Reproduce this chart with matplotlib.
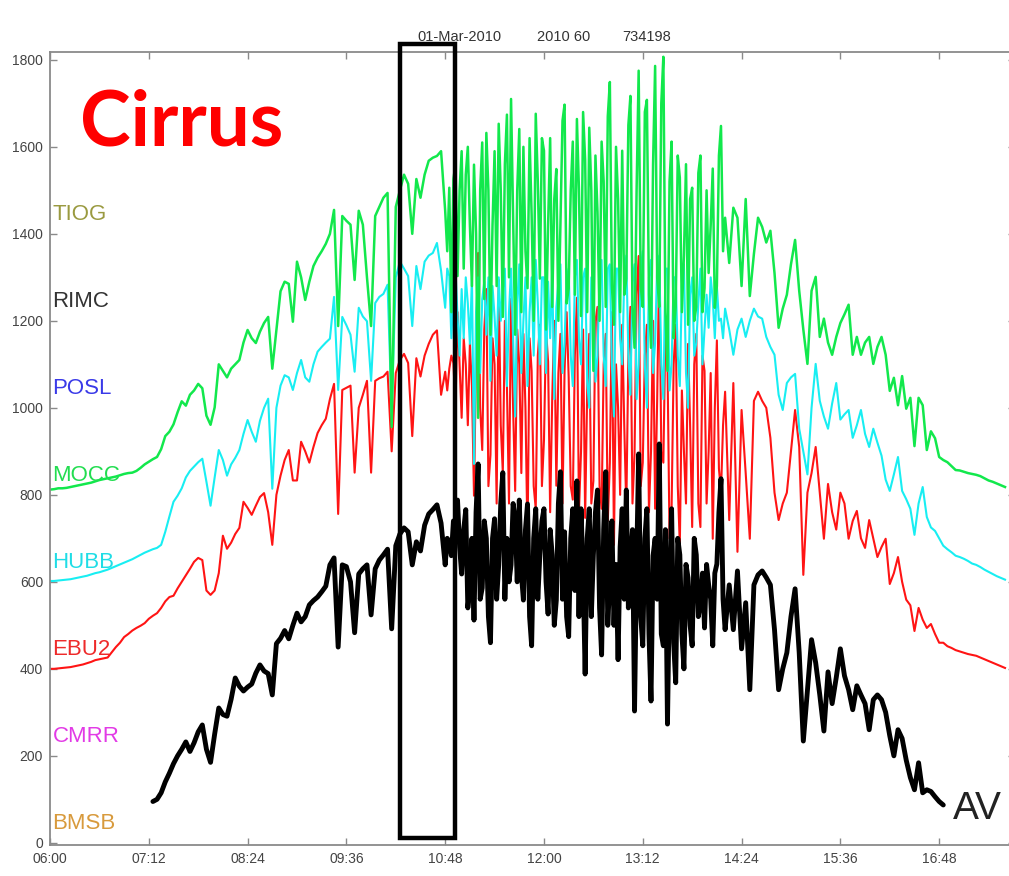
import numpy as np
import matplotlib.pyplot as plt
from matplotlib.patches import Rectangle

# irradiance (W/m^2). Morning and afternoon are 3-minute samples,
# the broken-cloud period around midday is logged every 90 s.
# morning: 06:00-10:45, midday: 10:48-14:12, afternoon: 14:15 onwards
mocc_am = [
    12, 13, 15, 15, 16, 18, 20, 22, 24, 26, 28, 31, 34, 36, 38, 40, 42, 45, 48, 50,
    51, 55, 62, 70, 76, 82, 87, 105, 135, 145, 162, 190, 215, 205, 230, 240, 255, 245, 182, 161,
    201, 300, 285, 270, 290, 300, 310, 350, 379, 360, 349, 375, 395, 409, 290, 380, 468, 490, 485, 398,
    536, 500, 448, 490, 526, 545, 560, 577, 600, 655, 388, 641, 630, 621, 494, 653, 621, 500, 388, 641,
    662, 683, 694, 156, 662, 700, 736, 715, 600, 726, 683, 736, 768, 775, 779, 790,
]
mocc_mid = [
    653, 560, 706, 420, 726, 760, 503, 700,
    790, 520, 736, 800, 621, 480, 759, 600, 177, 700, 810, 450, 832, 700, 368, 620, 790, 480, 853, 700, 409, 760,
    874, 500, 910, 640, 368, 700, 841, 420, 800, 560, 475, 820, 644, 400, 876, 720, 497, 820,
    791, 380, 620, 820, 432, 680, 749, 400, 623, 860, 897, 440, 475, 700, 812, 460, 864, 700, 411, 880,
    770, 420, 844, 700, 285, 780, 650, 400, 812, 720, 432, 870, 949, 480, 391, 800, 680, 420, 791, 460,
    497, 850, 917, 430, 338, 700, 975, 480, 432, 880, 908, 460, 338, 760, 986, 500, 432, 900, 1007, 420,
    285, 720, 812, 360, 432, 780, 729, 420, 550, 760, 391, 680, 706, 400, 432, 740, 780, 420, 475, 700,
    510, 620, 750, 430, 480, 780, 848, 560, 637,
]
mocc_pm = [
    533, 660, 637, 480, 680, 457, 554, 637, 616, 580, 607, 510, 384, 428, 460,
    530, 586, 469, 380, 301, 469, 501, 363, 405, 350, 322, 363, 395, 415, 437, 322, 363, 322, 350, 363,
    301, 340, 363, 322, 239, 269, 206, 273, 198, 223, 112, 223, 206, 103, 146, 130, 87, 80, 75, 66,
    57, 56, 53, 50, 48, 46, 43, 38, 33, 30, 26, 22, 18,
]

hubb_am = [
    2, 2, 3, 4, 5, 6, 8, 10, 12, 14, 17, 20, 22, 25, 28, 32, 36, 40, 44, 48,
    52, 57, 62, 67, 71, 75, 78, 85, 115, 150, 184, 198, 215, 240, 255, 265, 275, 283, 230, 175,
    240, 303, 280, 244, 270, 285, 303, 340, 372, 345, 322, 370, 400, 421, 214, 400, 451, 475, 470, 441,
    480, 510, 470, 460, 500, 529, 540, 550, 559, 655, 441, 609, 590, 568, 483, 630, 610, 599, 462, 641,
    655, 662, 683, 390, 700, 736, 720, 703, 588, 726, 673, 736, 750, 756, 779, 715,
]
hubb_mid = [
    630, 720, 703, 560, 670, 720, 609, 520,
    673, 560, 700, 640, 547, 700, 271, 620, 700, 480, 650, 690, 568, 700, 462, 680, 609, 520, 700, 600, 673, 720,
    450, 620, 720, 560, 380, 640, 730, 480, 600, 700, 450, 620, 700, 520, 740, 640, 500, 700,
    700, 480, 690, 560, 720, 420, 630, 690, 730, 480, 550, 700, 720, 520, 450, 700, 740, 560, 500, 700,
    720, 460, 400, 700, 700, 460, 520, 700, 740, 520, 450, 720, 730, 500, 380, 720, 720, 560, 500, 700,
    750, 520, 430, 690, 730, 420, 500, 720, 760, 500, 400, 700, 740, 480, 550, 730, 750, 500, 420, 720,
    720, 440, 500, 700, 700, 520, 450, 680, 730, 480, 400, 660, 700, 520, 550, 640, 720, 500, 580, 660,
    584, 700, 650, 560, 680, 600, 605, 560, 628,
]
hubb_pm = [
    580, 522, 580, 605, 563, 600, 628, 610, 605, 563, 540, 522, 430, 395, 457,
    470, 478, 352, 300, 247, 400, 501, 416, 380, 352, 410, 457, 373, 385, 395, 331, 360, 395, 340, 310,
    352, 320, 290, 235, 209, 247, 287, 209, 190, 168, 108, 180, 218, 149, 125, 117, 100, 83, 75, 68,
    60, 57, 53, 48, 42, 39, 34, 28, 23, 18, 13, 9, 5,
]

ebu2_am = [
    0, 0, 1, 2, 3, 4, 6, 8, 10, 13, 16, 20, 22, 24, 26, 38, 50, 60, 73, 80,
    88, 94, 99, 105, 115, 122, 128, 140, 155, 165, 168, 185, 200, 215, 230, 246, 255, 250, 180, 170,
    180, 220, 306, 276, 290, 310, 324, 384, 370, 354, 375, 395, 404, 360, 285, 400, 444, 480, 503, 433,
    433, 522, 500, 474, 510, 542, 560, 575, 620, 655, 356, 641, 646, 651, 451, 600, 630, 662, 451, 662,
    668, 672, 683, 500, 680, 710, 724, 703, 535, 714, 672, 720, 747, 768, 778, 630,
]
ebu2_mid = [
    683, 640, 690, 720, 703, 600, 820, 700,
    577, 760, 700, 560, 747, 650, 398, 720, 956, 600, 503, 780, 873, 420, 492, 760, 700, 380, 894, 560, 451, 800,
    650, 380, 851, 600, 409, 780, 700, 450, 770, 600, 294, 760, 685, 420, 368, 720, 791, 420,
    526, 780, 706, 360, 621, 800, 421, 680, 770, 380, 685, 820, 670, 420, 389, 720, 853, 360, 500, 780,
    347, 640, 770, 380, 432, 800, 832, 420, 368, 700, 770, 340, 474, 820, 285, 700, 600, 400, 791, 560,
    368, 720, 832, 380, 494, 860, 949, 420, 474, 720, 791, 360, 500, 800, 368, 620, 938, 500, 474, 780,
    706, 300, 368, 700, 791, 420, 285, 640, 500, 380, 747, 560, 326, 700, 770, 380, 326, 720, 685, 380,
    500, 680, 299, 600, 755, 460, 405, 560, 637,
]
ebu2_pm = [
    342, 657, 269, 595, 450, 299, 616, 637, 616, 600, 531, 405, 342, 380, 405,
    500, 595, 510, 216, 405, 450, 510, 405, 299, 425, 360, 320, 405, 380, 299, 340, 363, 300, 278, 342,
    300, 257, 280, 299, 195, 220, 257, 200, 159, 146, 87, 140, 113, 94, 103, 80, 60, 60, 52, 48,
    43, 40, 37, 34, 32, 30, 26, 22, 18, 14, 10, 6, 2,
]

# network average, starts 07:15 and stops 16:51
av_am = [
    95, 100, 115, 140, 160, 182, 200, 215, 232, 210, 230, 255, 271, 215, 185,
    250, 310, 295, 291, 330, 379, 360, 349, 358, 365, 390, 409, 395, 389, 340, 458, 470, 488, 469, 500,
    528, 508, 520, 547, 557, 565, 577, 590, 639, 655, 450, 639, 635, 600, 483, 618, 630, 639, 524, 630,
    650, 662, 675, 492, 683, 710, 724, 715, 639, 692, 671, 730, 756, 766, 777, 735,
]
av_mid = [
    639, 700, 692, 660, 740, 700, 788, 680,
    618, 720, 766, 540, 586, 700, 512, 760, 871, 560, 586, 740, 700, 520, 460, 700, 745, 560, 639, 780, 851, 560,
    700, 600, 639, 780, 745, 600, 788, 620, 558, 720, 779, 520, 453, 700, 768, 560, 662, 740,
    768, 600, 526, 720, 662, 500, 558, 780, 853, 560, 715, 520, 474, 700, 768, 580, 832, 520, 768, 620,
    388, 700, 768, 520, 662, 760, 811, 540, 432, 720, 853, 500, 609, 740, 500, 640, 421, 680, 768, 560,
    811, 540, 650, 720, 303, 640, 894, 520, 453, 700, 768, 480, 326, 660, 700, 560, 917, 480, 453, 720,
    273, 600, 768, 460, 368, 700, 662, 480, 400, 640, 609, 500, 453, 700, 662, 520, 550, 620, 494, 640,
    593, 560, 453, 620, 641, 760, 837, 560, 490,
]
av_pm = [
    593, 490, 625, 446, 552, 352, 593, 616, 625, 610, 593, 490, 352, 400, 437,
    520, 584, 437, 234, 350, 467, 414, 340, 257, 393, 320, 380, 446, 384, 352, 306, 361, 340, 320, 260,
    329, 340, 329, 300, 246, 200, 260, 240, 190, 150, 122, 184, 115, 122, 118, 106, 95, 87,
]

stations = ['BMSB', 'CMRR', 'EBU2', 'HUBB', 'MOCC', 'POSL', 'RIMC', 'TIOG']
label_colors = ['#d89a3c', '#e23be6', '#ee2a2a', '#20dde6', '#22dd50', '#3a3ae8', '#333333', '#9a9a40']
offset_step = 200
xtick_labels = ['06:00', '07:12', '08:24', '09:36', '10:48', '12:00', '13:12', '14:24', '15:36', '16:48']
header = ['01-Mar-2010', '2010 60', '734198']
window = ('10:15', '10:55')


def hours(hhmm):
    h, m = hhmm.split(':')
    return int(h) + int(m) / 60.0


def times(start, n, step_min):
    return hours(start) + np.arange(n) * step_min / 60.0


def series(am, mid, pm, am_start='06:00'):
    t = np.concatenate([times(am_start, len(am), 3),
                        times('10:48', len(mid), 1.5),
                        times('14:15', len(pm), 3)])
    return t, np.array(am + mid + pm, dtype=float)


fig = plt.figure(figsize=(10.09, 8.76), dpi=100)
W, H = 1009.0, 876.0
ax = fig.add_axes([50 / W, 31 / H, 965 / W, 793 / H])

# stacked station traces, each shifted by its slot in the station list
traces = [('EBU2', (ebu2_am, ebu2_mid, ebu2_pm), '#ff1414', 1.5),
          ('HUBB', (hubb_am, hubb_mid, hubb_pm), '#18eef2', 1.5),
          ('MOCC', (mocc_am, mocc_mid, mocc_pm), '#12e84c', 1.8)]
for name, parts, col, lw in traces:
    t, v = series(*parts)
    off = stations.index(name) * offset_step
    ax.plot(t, v + off, color=col, lw=lw, solid_joinstyle='round')

t_av, v_av = series(av_am, av_mid, av_pm, am_start='07:15')
ax.plot(t_av, v_av, color='black', lw=3.5, solid_joinstyle='round', solid_capstyle='round')

for i, (name, col) in enumerate(zip(stations, label_colors)):
    ax.text(6.03, i * offset_step + 45, name, color=col, fontsize=16,
            family='Liberation Sans', va='center', ha='left')

ax.add_patch(Rectangle((hours(window[0]), 12), hours(window[1]) - hours(window[0]), 1825,
                       fill=False, ec='black', lw=3.2, clip_on=False, zorder=5))

ax.set_xlim(6, 6 + 965 / 82.33)
ax.set_ylim(-5, 1818)
ax.set_xticks([hours(s) for s in xtick_labels])
ax.set_xticklabels(xtick_labels)
ax.set_yticks(np.arange(0, 1801, 200))
ax.tick_params(direction='in', length=5, width=1, color='#8a8a8a', labelcolor='#444444',
               labelsize=10, top=True, right=True, pad=5)
for lab in ax.get_xticklabels() + ax.get_yticklabels():
    lab.set_family('Liberation Sans')
for sp in ax.spines.values():
    sp.set_color('#8a8a8a')
    sp.set_linewidth(1.3)

fig.text(80 / W, 1 - 146 / H, 'Cirrus', color='#ff0000', fontsize=55, fontweight='bold',
         family='Lato', va='baseline', ha='left')
for s, x in zip(header, [417, 537, 622]):
    fig.text(x / W, 1 - 37 / H, s, fontsize=10.5, color='#333333',
             family='Liberation Sans', va='center', ha='left')
fig.text(953 / W, 1 - 809 / H, 'AV', fontsize=28, color='#222222',
         family='Liberation Sans', va='center', ha='left')

fig.savefig('out.png', dpi=100, facecolor='white')
